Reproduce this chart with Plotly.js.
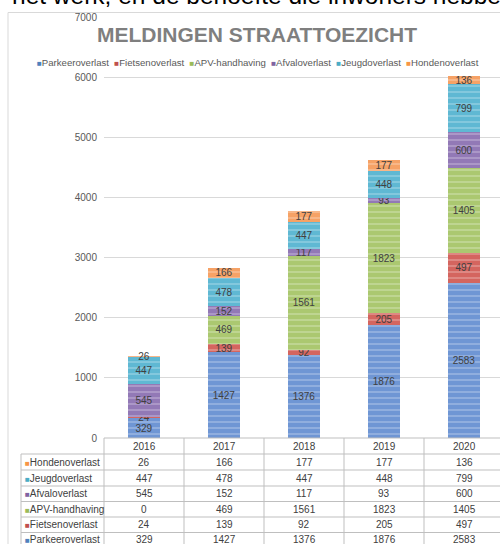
<!DOCTYPE html>
<html>
<head>
<meta charset="utf-8">
<script src="https://cdn.plot.ly/plotly-3.0.1.min.js"></script>
<style>html,body{margin:0;padding:0;background:#fff;}#chart{width:500px;height:544px;}</style>
</head>
<body>
<div id="chart"></div>
<script>
// ---- data ----
const years = ['2016', '2017', '2018', '2019', '2020'];
const seriesNames = ['Parkeeroverlast', 'Fietsenoverlast', 'APV-handhaving', 'Afvaloverlast', 'Jeugdoverlast', 'Hondenoverlast'];
const parkeeroverlast = [329, 1427, 1376, 1876, 2583];
const fietsenoverlast = [24, 139, 92, 205, 497];
const apvHandhaving = [0, 469, 1561, 1823, 1405];
const afvaloverlast = [545, 152, 117, 93, 600];
const jeugdoverlast = [447, 478, 447, 448, 799];
const hondenoverlast = [26, 166, 177, 177, 136];
const yTicks = [0, 1000, 2000, 3000, 4000, 5000, 6000, 7000];
const chartTitle = 'MELDINGEN STRAATTOEZICHT';
const pageText = 'het werk, en de behoefte die inwoners hebben';

const seriesValues = [parkeeroverlast, fietsenoverlast, apvHandhaving, afvaloverlast, jeugdoverlast, hondenoverlast];

// ---- style ----
const legendColors = ['#4F81BD', '#C0504D', '#9BBB59', '#8064A2', '#4BACC6', '#F79646'];
const barColors = ['#6f96d4', '#d4655f', '#abc870', '#9279b6', '#5fb8d3', '#f6a266'];
const FONT = 'Liberation Sans, Arial, sans-serif';
const W = 500, H = 544;
const M = {l: 104, r: 0, t: 17, b: 106};
const plotH = H - M.t - M.b;
const plotW = W - M.l - M.r;
const xRange = [-0.5, 4.45];
const py = p => (H - M.b - p) / plotH;          // pixel y -> paper y
const px = p => (p - M.l) / plotW;              // pixel x -> paper x
const dx = d => (d - xRange[0]) / (xRange[1] - xRange[0]); // category index -> paper x

const traces = seriesNames.map((name, i) => ({
  type: 'bar',
  name: name,
  x: years,
  y: seriesValues[i],
  width: 0.4,
  marker: {
    color: barColors[i],
    line: {width: 0},
    pattern: {shape: '-', fgcolor: 'rgba(255,255,255,0.5)', size: 6, solidity: 0.3, fillmode: 'overlay'}
  },
  text: seriesValues[i].map(v => v === 0 ? '' : String(v)),
  textposition: 'inside',
  insidetextanchor: 'middle',
  constraintext: 'none',
  textfont: {family: FONT, size: 10, color: '#404040'},
  textangle: 0,
  hoverinfo: 'skip',
  showlegend: false,
  cliponaxis: false
}));

const shapes = [];
const annotations = [];
const lineColor = '#bfbfbf';
const txt = {family: FONT, size: 10, color: '#404040'};

// outer chart border
shapes.push({type: 'rect', xref: 'paper', yref: 'paper', x0: px(8), x1: px(530), y0: py(580), y1: py(12.5),
  line: {color: '#d9d9d9', width: 1}, fillcolor: 'rgba(0,0,0,0)', layer: 'below'});

// table geometry
const rowLines = [438, 454, 470, 486, 501.5, 517, 532.5];
const rowCenters = [462, 478, 493.7, 509.2, 524.8, 539.5];
const headerCenter = 446.5;
const labelLeft = 21;
rowLines.forEach((yy, k) => {
  shapes.push({type: 'line', xref: 'paper', yref: 'paper', x0: k === 0 ? 0 : px(labelLeft), x1: px(W + 10), y0: py(yy), y1: py(yy),
    line: {color: lineColor, width: 1}});
});
for (let d = -0.5; d <= years.length - 0.5; d += 1) {
  shapes.push({type: 'line', xref: 'paper', yref: 'paper', x0: dx(d), x1: dx(d), y0: py(438), y1: py(H + 10),
    line: {color: lineColor, width: 1}});
}
shapes.push({type: 'line', xref: 'paper', yref: 'paper', x0: px(labelLeft), x1: px(labelLeft), y0: py(454), y1: py(H + 10),
  line: {color: lineColor, width: 1}});

// header years
years.forEach((yr, j) => {
  annotations.push({xref: 'paper', yref: 'paper', x: dx(j), y: py(headerCenter), text: yr, showarrow: false,
    xanchor: 'center', yanchor: 'middle', font: txt});
});
// rows (top: last series)
const rowOrder = [5, 4, 3, 2, 1, 0];
rowOrder.forEach((si, r) => {
  annotations.push({xref: 'paper', yref: 'paper', x: px(23), y: py(rowCenters[r]), xanchor: 'left', yanchor: 'middle',
    showarrow: false, align: 'left',
    text: '<span style="color:' + legendColors[si] + ';font-size:8px">■</span>' + seriesNames[si],
    font: txt});
  years.forEach((yr, j) => {
    annotations.push({xref: 'paper', yref: 'paper', x: dx(j), y: py(rowCenters[r]), text: String(seriesValues[si][j]),
      showarrow: false, xanchor: 'center', yanchor: 'middle', font: txt});
  });
});

// legend (compact, Excel-like)
const legendText = seriesNames.map((n, i) => '<span style="color:' + legendColors[i] + ';font-size:8px">■</span>' + n).join('  ');
annotations.push({xref: 'paper', yref: 'paper', x: px(258), y: py(62.5), xanchor: 'center', yanchor: 'middle',
  showarrow: false, text: legendText, font: {family: FONT, size: 9.6, color: '#595959'}});

// chart title
annotations.push({xref: 'paper', yref: 'paper', x: px(257), y: py(34.5), xanchor: 'center', yanchor: 'middle',
  showarrow: false, text: '<b>' + chartTitle + '</b>', font: {family: FONT, size: 21, color: '#7f7f7f'}});

// page text cut off at top
annotations.push({xref: 'paper', yref: 'paper', x: px(10), y: py(-5), xanchor: 'left', yanchor: 'middle',
  showarrow: false, text: pageText, font: {family: FONT, size: 24.5, color: '#000000'}});

const layout = {
  width: W, height: H,
  margin: M,
  paper_bgcolor: '#ffffff',
  plot_bgcolor: '#ffffff',
  barmode: 'stack',
  showlegend: false,
  font: {family: FONT, size: 10, color: '#595959'},
  xaxis: {type: 'category', range: xRange, showticklabels: false, showgrid: false, zeroline: false,
    showline: false, ticks: '', fixedrange: true},
  yaxis: {range: [0, 7000], tickvals: yTicks, ticktext: yTicks.map(String), showgrid: true, gridcolor: '#d9d9d9', gridwidth: 1,
    zeroline: false, showline: false, ticks: '', ticklabelstandoff: 6,
    tickfont: {family: FONT, size: 10, color: '#595959'}, fixedrange: true},
  shapes: shapes,
  annotations: annotations
};

Plotly.newPlot('chart', traces, layout, {displayModeBar: false, staticPlot: true});
</script>
</body>
</html>
